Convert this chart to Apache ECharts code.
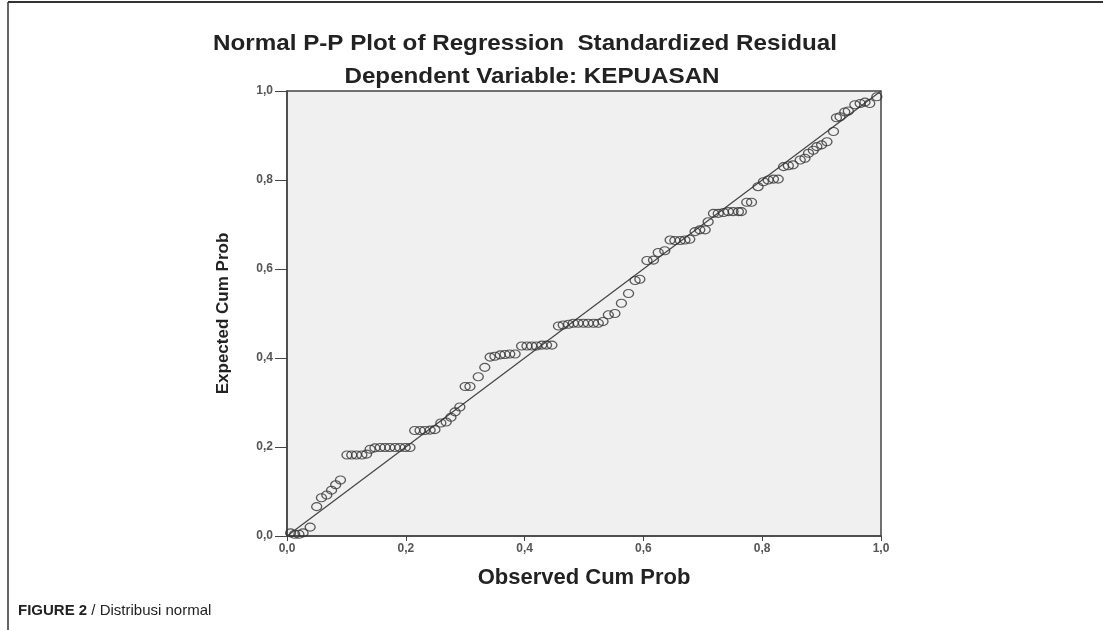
<!DOCTYPE html>
<html>
<head>
<meta charset="utf-8">
<script src="https://cdn.jsdelivr.net/npm/echarts@6/dist/echarts.min.js"></script>
<style>
html,body{margin:0;padding:0;background:#fff;}
#c{width:1103px;height:630px;}
</style>
</head>
<body>
<div id="c"></div>
<script>
const titleText = 'Normal P-P Plot of Regression  Standardized Residual';
const subtitleText = 'Dependent Variable: KEPUASAN';
const xAxisName = 'Observed Cum Prob';
const yAxisName = 'Expected Cum Prob';
const tickValues = [0, 0.2, 0.4, 0.6, 0.8, 1.0];

const observedCumProb = [
0.006,0.013,0.020,0.027,0.039,0.050,0.058,0.067,0.075,0.082,0.090,
0.101,0.109,0.117,0.126,0.134,
0.140,0.148,0.157,0.165,0.173,0.182,0.190,0.199,0.207,
0.215,0.224,0.232,0.241,0.249,
0.259,0.268,0.276,0.283,0.291,
0.300,0.308,0.322,0.333,
0.342,0.350,0.359,0.367,0.375,0.384,
0.395,0.404,0.412,0.420,0.429,0.437,0.446,
0.457,0.465,0.474,0.482,0.490,0.499,0.507,0.516,0.524,0.532,
0.541,0.552,0.563,0.575,0.586,0.594,0.606,0.617,0.625,0.636,
0.645,0.653,0.662,0.670,0.678,
0.687,0.695,0.704,0.709,
0.718,0.726,0.735,0.743,0.751,0.760,0.765,
0.774,0.782,0.793,0.802,0.810,0.819,0.827,
0.836,0.844,0.852,0.864,0.872,0.878,0.886,0.892,0.900,0.909,
0.920,0.925,0.931,0.939,0.945,0.956,0.965,0.973,0.981,0.993
];
const expectedCumProb = [
0.007,0.004,0.004,0.007,0.020,0.066,0.086,0.092,0.103,0.115,0.126,
0.182,0.182,0.182,0.182,0.184,
0.195,0.198,0.199,0.199,0.199,0.199,0.199,0.199,0.199,
0.237,0.237,0.237,0.238,0.239,
0.254,0.256,0.267,0.279,0.290,
0.336,0.336,0.358,0.379,
0.402,0.404,0.407,0.408,0.409,0.409,
0.427,0.427,0.427,0.427,0.429,0.429,0.429,
0.472,0.474,0.476,0.478,0.478,0.478,0.478,0.478,0.478,0.482,
0.497,0.500,0.523,0.545,0.574,0.577,0.619,0.620,0.637,0.641,
0.665,0.664,0.664,0.665,0.667,
0.684,0.688,0.688,0.706,
0.725,0.725,0.727,0.729,0.729,0.729,0.729,
0.750,0.750,0.785,0.796,0.800,0.802,0.802,
0.830,0.832,0.834,0.845,0.849,0.860,0.867,0.875,0.879,0.886,
0.909,0.940,0.942,0.953,0.955,0.969,0.972,0.975,0.972,0.987
];
const refLine = [[0, 0], [1, 1]];

const points = observedCumProb.map((x, i) => [x, expectedCumProb[i]]);
const fmt = v => v.toFixed(1).replace('.', ',');

const chart = echarts.init(document.getElementById('c'), null, {renderer: 'canvas'});
const font = '"Liberation Sans", Arial, sans-serif';
chart.setOption({
  animation: false,
  backgroundColor: '#ffffff',
  grid: {left: 287, top: 91, right: 222, bottom: 94, show: true,
         backgroundColor: '#f0f0f0', borderColor: '#444', borderWidth: 1.5},
  xAxis: {
    type: 'value', min: 0, max: 1, interval: 0.2,
    name: xAxisName, nameLocation: 'middle', nameGap: 31,
    nameTextStyle: {fontFamily: font, fontWeight: 'bold', fontSize: 22, color: '#222'},
    axisLine: {show: true, lineStyle: {color: '#444', width: 1.5}},
    axisTick: {show: true, length: 5, lineStyle: {color: '#444'}},
    axisLabel: {formatter: fmt, fontFamily: font, fontSize: 12, fontWeight: 'bold', color: '#555', margin: 7},
    splitLine: {show: false}
  },
  yAxis: {
    type: 'value', min: 0, max: 1, interval: 0.2,
    name: yAxisName, nameLocation: 'middle', nameGap: 55,
    nameTextStyle: {fontFamily: font, fontWeight: 'bold', fontSize: 17, color: '#222'},
    axisLine: {show: true, lineStyle: {color: '#444', width: 1.5}},
    axisTick: {show: true, length: 12, lineStyle: {color: '#444'}},
    axisLabel: {formatter: fmt, fontFamily: font, fontSize: 12, fontWeight: 'bold', color: '#555', margin: 14},
    splitLine: {show: false}
  },
  series: [
    {type: 'line', data: refLine, symbol: 'none', silent: true,
     lineStyle: {color: '#444', width: 1.2}, z: 2},
    {type: 'scatter', data: points, symbol: 'circle', symbolSize: [10, 8],
     itemStyle: {color: 'rgba(0,0,0,0)', borderColor: '#333', borderWidth: 1.2}, z: 3}
  ],
  graphic: [
    {type: 'line', shape: {x1: 8, y1: 2, x2: 1103, y2: 2}, style: {stroke: '#333', lineWidth: 2}},
    {type: 'line', shape: {x1: 8, y1: 2, x2: 8, y2: 630}, style: {stroke: '#333', lineWidth: 1.5}},
    {type: 'text', x: 525, y: 44, scaleX: 1.1, style: {text: titleText, fontFamily: font, fontWeight: 'bold',
      fontSize: 22, fill: '#222', textAlign: 'center', textVerticalAlign: 'middle'}},
    {type: 'text', x: 532, y: 77, scaleX: 1.1, style: {text: subtitleText, fontFamily: font, fontWeight: 'bold',
      fontSize: 22, fill: '#222', textAlign: 'center', textVerticalAlign: 'middle'}},
    {type: 'text', x: 18, y: 611, style: {
      text: '{b|FIGURE 2} / Distribusi normal', fontFamily: font, fontSize: 15, fill: '#222',
      textVerticalAlign: 'middle',
      rich: {b: {fontFamily: font, fontWeight: 'bold', fontSize: 15, fill: '#222'}}}}
  ]
});
</script>
</body>
</html>
